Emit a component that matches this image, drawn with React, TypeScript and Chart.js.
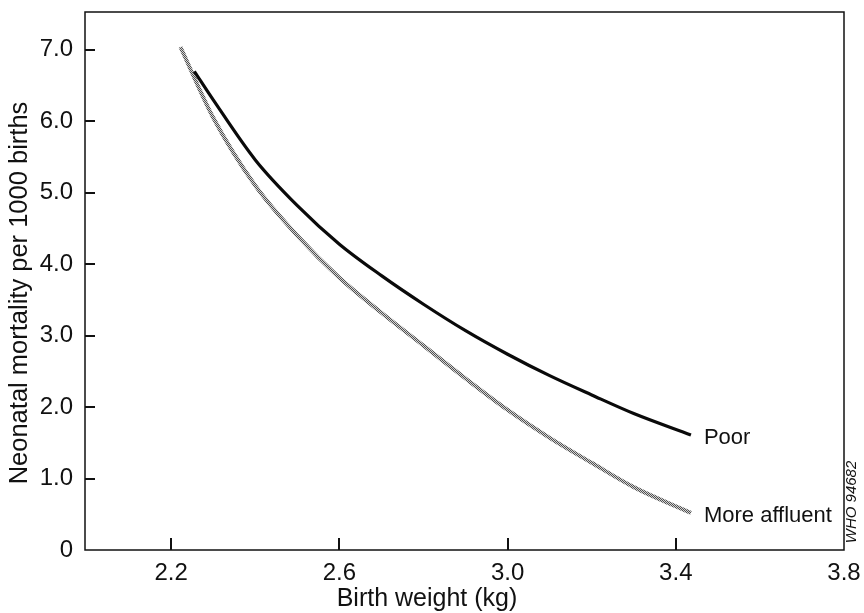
import React, { useEffect, useRef } from 'react';
import { Chart, registerables } from 'chart.js';

Chart.register(...registerables);

// ---- data ----
const seriesNames = ['Poor', 'More affluent'];
const poorWeights = [2.255, 2.3, 2.4, 2.5, 2.6, 2.7, 2.8, 2.9, 3.0, 3.1, 3.2, 3.3, 3.436];
const poorMortality = [6.7, 6.3, 5.46, 4.82, 4.28, 3.84, 3.44, 3.07, 2.74, 2.44, 2.17, 1.91, 1.61];
const affluentWeights = [2.222, 2.3, 2.4, 2.5, 2.6, 2.7, 2.8, 2.9, 3.0, 3.1, 3.2, 3.3, 3.436];
const affluentMortality = [7.04, 6.05, 5.1, 4.4, 3.81, 3.32, 2.86, 2.4, 1.96, 1.57, 1.22, 0.88, 0.52];
const xTickValues = [2.2, 2.6, 3.0, 3.4, 3.8];
const yTickValues = [0, 1, 2, 3, 4, 5, 6, 7];
const xTitle = 'Birth weight (kg)';
const yTitle = 'Neonatal mortality per 1000 births';
const sourceNote = 'WHO 94682';

const FONT = '"Liberation Sans", Arial, Helvetica, sans-serif';

function makeStipple(): CanvasPattern | string {
  const c = document.createElement('canvas');
  c.width = 2;
  c.height = 2;
  const g = c.getContext('2d');
  if (!g) return '#999';
  g.fillStyle = '#d4d4d4';
  g.fillRect(0, 0, 2, 2);
  g.fillStyle = '#505050';
  g.fillRect(0, 0, 1, 1);
  g.fillRect(1, 1, 1, 1);
  const p = g.createPattern(c, 'repeat');
  return p || '#999';
}

const framePlugin = {
  id: 'frameAndTicks',
  afterDraw(chart: any) {
    const ctx: CanvasRenderingContext2D = chart.ctx;
    const { left, right, top, bottom } = chart.chartArea;
    const xs = chart.scales.x;
    const ys = chart.scales.y;
    ctx.save();
    ctx.setLineDash([]);
    ctx.strokeStyle = '#111111';
    ctx.fillStyle = '#111111';
    // frame
    ctx.lineWidth = 1.5;
    ctx.strokeRect(left, top, right - left, bottom - top);
    // inward tick marks
    xTickValues.forEach((v) => {
      const px = Math.round(xs.getPixelForValue(v));
      if (px > left + 2 && px < right - 2) {
        ctx.fillRect(px - 1, bottom - 12, 2, 12);
      }
    });
    yTickValues.forEach((v) => {
      const py = Math.round(ys.getPixelForValue(v));
      if (py > top + 2 && py < bottom - 2) {
        ctx.fillRect(left, py - 1, 10, 2);
      }
    });
    // axis titles
    ctx.font = `25px ${FONT}`;
    ctx.textAlign = 'center';
    ctx.textBaseline = 'alphabetic';
    ctx.fillText(xTitle, 427, 606);
    ctx.save();
    ctx.translate(27, 293);
    ctx.rotate(-Math.PI / 2);
    ctx.font = `25.5px ${FONT}`;
    ctx.fillText(yTitle, 0, 0);
    ctx.restore();
    // series labels at line ends
    ctx.font = `22px ${FONT}`;
    ctx.textAlign = 'left';
    ctx.textBaseline = 'middle';
    chart.data.datasets.forEach((ds: any, i: number) => {
      const last = ds.data[ds.data.length - 1];
      const px = xs.getPixelForValue(last.x);
      const py = ys.getPixelForValue(last.y);
      ctx.fillText(seriesNames[i], px + 13, py + 3);
    });
    // source note
    ctx.font = `italic 15px ${FONT}`;
    ctx.translate(right + 8, bottom - 48);
    ctx.rotate(-Math.PI / 2);
    ctx.textAlign = 'center';
    ctx.textBaseline = 'middle';
    ctx.fillText(sourceNote, 0, 0);
    ctx.restore();
  },
};

export default function App() {
  const ref = useRef<HTMLCanvasElement | null>(null);

  useEffect(() => {
    if (!ref.current) return;
    const stipple = makeStipple();
    const chart = new Chart(ref.current, {
      type: 'scatter',
      data: {
        datasets: [
          {
            label: seriesNames[0],
            data: poorWeights.map((x, i) => ({ x, y: poorMortality[i] })),
            showLine: true,
            borderColor: '#0a0a0a',
            borderWidth: 3.2,
            pointRadius: 0,
            cubicInterpolationMode: 'monotone',
          },
          {
            label: seriesNames[1],
            data: affluentWeights.map((x, i) => ({ x, y: affluentMortality[i] })),
            showLine: true,
            borderColor: stipple as any,
            borderWidth: 4,
            pointRadius: 0,
            cubicInterpolationMode: 'monotone',
          },
        ],
      },
      options: {
        responsive: false,
        animation: false,
        layout: { padding: { top: 12, right: 20, left: 0, bottom: 0 } },
        plugins: {
          legend: { display: false },
          tooltip: { enabled: false },
        },
        scales: {
          x: {
            type: 'linear',
            min: 1.995,
            max: 3.8,
            afterBuildTicks: (s: any) => {
              s.ticks = xTickValues.map((v) => ({ value: v }));
            },
            afterFit: (s: any) => {
              s.height = 63;
              s.paddingLeft = 0;
              s.paddingRight = 0;
            },
            grid: { display: false, drawTicks: false },
            border: { display: false },
            ticks: {
              autoSkip: false,
              maxRotation: 0,
              padding: 9,
              color: '#111',
              font: { family: FONT, size: 24 },
              callback: (v: any) => Number(v).toFixed(1),
            },
            title: { display: false, text: xTitle },
          },
          y: {
            type: 'linear',
            min: 0,
            max: 7.53,
            afterBuildTicks: (s: any) => {
              s.ticks = yTickValues.map((v) => ({ value: v }));
            },
            afterFit: (s: any) => {
              s.width = 85;
              s.paddingTop = 0;
              s.paddingBottom = 0;
            },
            grid: { display: false, drawTicks: false },
            border: { display: false },
            ticks: {
              autoSkip: false,
              padding: 12,
              color: '#111',
              font: { family: FONT, size: 24 },
              callback: (v: any) => (Number(v) === 0 ? '0' : Number(v).toFixed(1)),
            },
            title: { display: false, text: yTitle },
          },
        },
      },
      plugins: [framePlugin],
    } as any);
    return () => chart.destroy();
  }, []);

  return (
    <div style={{ position: 'fixed', left: 0, top: 0, width: 864, height: 613, background: '#fff' }}>
      <canvas ref={ref} width={864} height={613} style={{ display: 'block' }} />
    </div>
  );
}
